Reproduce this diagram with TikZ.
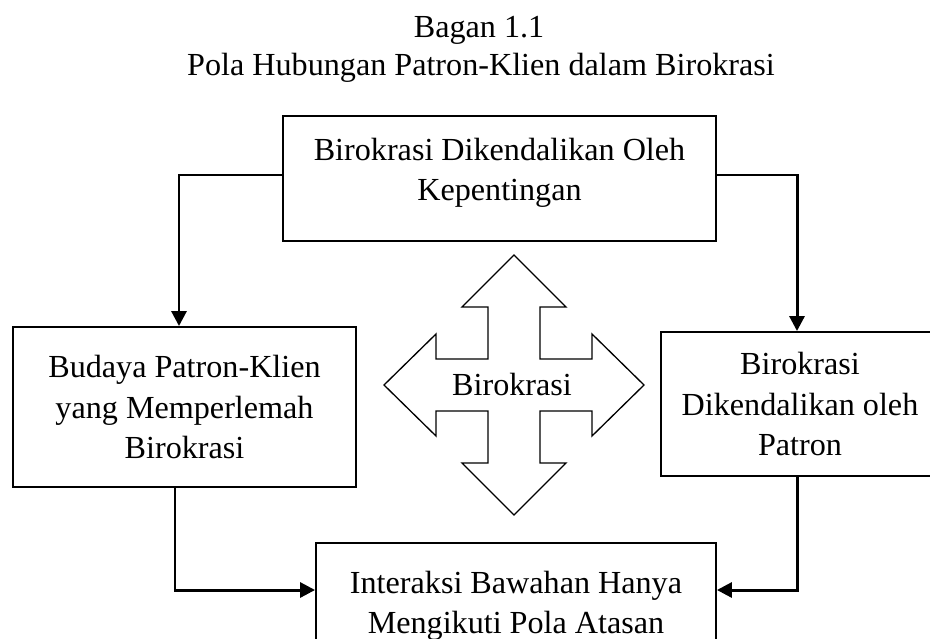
\documentclass[tikz,border=0pt]{standalone}
\usepackage{fontspec}
\setmainfont{Liberation Serif}
\usetikzlibrary{arrows.meta, positioning}

\begin{document}
\begin{tikzpicture}[x=0.02cm, y=-0.02cm]
\tikzstyle{box} = [rectangle, draw=black, line width=1.1pt, align=center, font=\fontsize{18.3}{22.8}\selectfont]
\tikzstyle{conn} = [line width=1.7pt, -{Triangle[length=0.3cm, width=0.3cm]}]
\tikzstyle{title} = [anchor=base, font=\fontsize{18.3}{22}\selectfont]

\clip (0,0) rectangle (930,639);

% Title
\node (t1) [title] at (479,37) {Bagan 1.1};
\node (t2) [title] at (481,75) {Pola Hubungan Patron-Klien dalam Birokrasi};

% Boxes
\node (top) [box, minimum width=8.66cm, minimum height=2.5cm, text depth=0.35cm] at (499.5,178.5) {Birokrasi Dikendalikan Oleh\\Kepentingan};
\node (lbox) [box, minimum width=6.86cm, minimum height=3.2cm] at (184.5,407) {Budaya Patron-Klien\\yang Memperlemah\\Birokrasi};
\node (rbox) [box, minimum width=5.56cm, minimum height=2.88cm] at (800,404) {Birokrasi\\Dikendalikan oleh\\Patron};
\node (bbox) [box, minimum width=8cm, minimum height=2.5cm] at (516,605.5) {Interaksi Bawahan Hanya\\Mengikuti Pola Atasan};

% Cross arrow
\draw[line width=0.75pt, shift={(514,385)}] (0,-130) -- (52,-78) -- (26,-78) -- (26,-26) -- (78,-26) -- (78,-51)
  -- (130,0) -- (78,51) -- (78,26) -- (26,26) -- (26,78) -- (52,78)
  -- (0,130) -- (-52,78) -- (-26,78) -- (-26,26) -- (-78,26) -- (-78,51)
  -- (-130,0) -- (-78,-51) -- (-78,-26) -- (-26,-26) -- (-26,-78) -- (-52,-78) -- cycle;
\node (mid) [font=\fontsize{18.3}{22}\selectfont] at (512,384) {Birokrasi};

% Draw arrows
\draw[conn] ([yshift=0.07cm]top.west) -| ([xshift=-0.11cm]lbox.north);
\draw[conn] ([yshift=0.07cm]top.east) -| ([xshift=-0.06cm]rbox.north);
\draw[conn] ([xshift=-0.19cm]lbox.south) |- ([yshift=0.31cm]bbox.west);
\draw[conn] ([xshift=-0.06cm]rbox.south) |- ([yshift=0.31cm]bbox.east);

\end{tikzpicture}
\end{document}
